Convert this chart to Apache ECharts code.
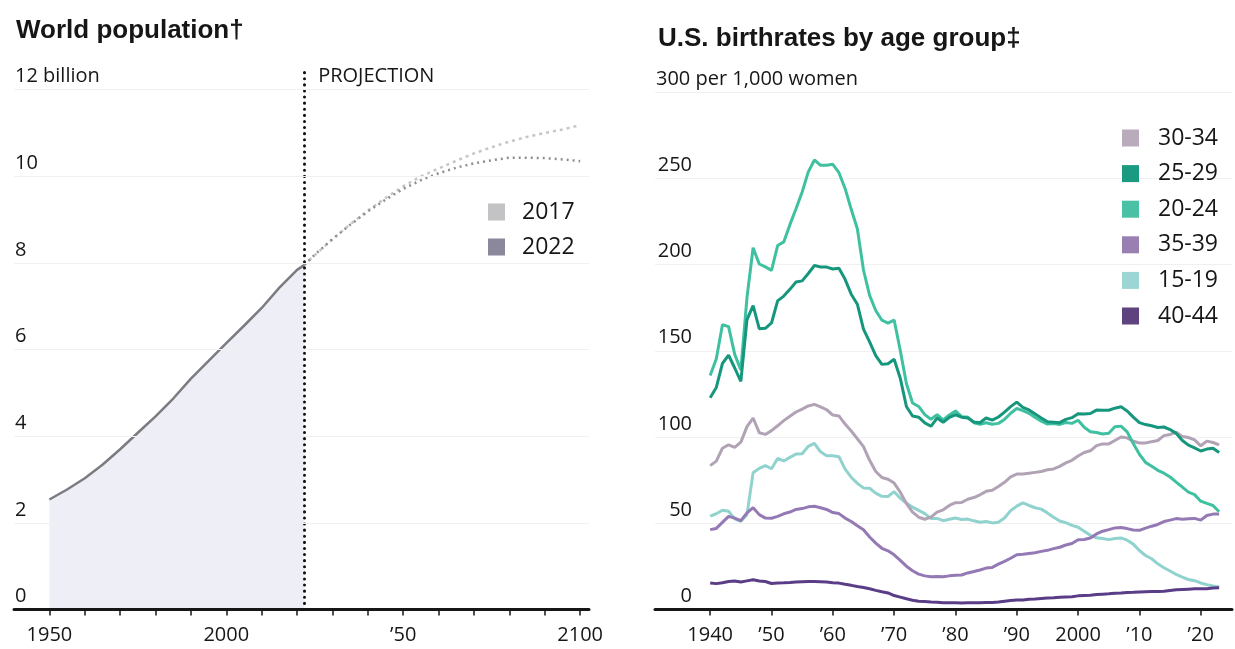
<!DOCTYPE html>
<html>
<head>
<meta charset="utf-8">
<style>
  html, body { margin: 0; padding: 0; background: #fff; }
  #chart { width: 1235px; height: 649px; }
</style>
<script src="https://cdn.jsdelivr.net/npm/echarts@6/dist/echarts.min.js"></script>
</head>
<body>
<div id="chart"></div>
<script>
// ---- World population, billions ----
const popYears = [1950, 1955, 1960, 1965, 1970, 1975, 1980, 1985, 1990, 1995, 2000, 2005, 2010, 2015, 2020, 2022];
const popHistory = [2.54, 2.77, 3.03, 3.34, 3.70, 4.08, 4.46, 4.87, 5.33, 5.74, 6.15, 6.55, 6.96, 7.43, 7.84, 7.95];
const projYears = [2022, 2025, 2030, 2035, 2040, 2045, 2050, 2055, 2060, 2065, 2070, 2075, 2080, 2085, 2090, 2095, 2100];
const proj2022 = [7.95, 8.19, 8.55, 8.88, 9.19, 9.46, 9.71, 9.91, 10.07, 10.20, 10.30, 10.37, 10.43, 10.43, 10.42, 10.39, 10.35];
const proj2017 = [7.95, 8.18, 8.55, 8.89, 9.21, 9.50, 9.77, 10.00, 10.18, 10.36, 10.53, 10.67, 10.80, 10.91, 11.00, 11.08, 11.18];
const popTickYears = [1950, 1960, 1970, 1980, 1990, 2000, 2010, 2020, 2030, 2040, 2050, 2060, 2070, 2080, 2090, 2100];
const popLabelYears = [1950, 2000, 2050, 2100];
const popLabelText = { 1950: '1950', 2000: '2000', 2050: '\u201950', 2100: '2100' };
const popLabelValues = [0, 2, 4, 6, 8, 10, 12];
const popGridValues = [2, 4, 6, 8, 10, 12];
const projectionYear = 2022;

// ---- U.S. birthrates by age of mother, births per 1,000 women, 1940-2023 ----
const birthYears = Array.from({ length: 84 }, (_, i) => 1940 + i);
const rate15_19 = [
  54.1, 55.5, 57.5, 57.0, 52.5, 51.1, 55.0, 79.3, 81.8, 83.4,
  81.6, 87.6, 86.1, 88.2, 90.1, 90.3, 94.6, 96.3, 91.4, 89.1,
  89.1, 88.6, 81.4, 76.7, 73.1, 70.5, 70.3, 67.5, 65.6, 65.5,
  68.3, 64.5, 61.7, 59.3, 57.5, 55.6, 52.8, 52.8, 51.5, 52.3,
  53.0, 52.2, 52.4, 51.4, 50.6, 51.0, 50.2, 50.6, 53.0, 57.3,
  59.9, 61.8, 60.3, 59.0, 58.2, 56.0, 53.5, 51.3, 50.3, 48.8,
  47.7, 45.3, 43.0, 41.6, 41.1, 40.5, 41.1, 41.5, 40.2, 37.9,
  34.2, 31.3, 29.4, 26.5, 24.2, 22.3, 20.3, 18.8, 17.4, 16.7,
  15.4, 14.4, 13.6, 13.1
];
const rate20_24 = [
  135.6, 145.4, 165.1, 164.0, 147.9, 138.9, 180.8, 209.7, 200.3, 198.6,
  196.6, 211.0, 213.1, 223.1, 232.3, 242.0, 253.7, 260.6, 257.5, 257.5,
  258.1, 253.2, 244.1, 232.0, 220.7, 196.8, 182.1, 173.3, 167.7, 166.0,
  167.8, 150.1, 131.0, 119.7, 117.7, 113.0, 110.3, 112.9, 109.9, 112.8,
  115.1, 111.8, 111.6, 108.3, 107.3, 108.3, 107.4, 107.9, 110.2, 113.8,
  116.5, 115.3, 113.7, 111.3, 109.2, 107.5, 107.8, 107.3, 108.4, 107.9,
  109.7, 105.6, 103.1, 102.6, 101.7, 102.2, 105.9, 106.3, 103.0, 96.2,
  90.0, 85.3, 83.1, 80.7, 79.0, 76.8, 73.8, 71.0, 68.0, 66.6,
  62.8, 61.5, 60.3, 56.7
];
const rate25_29 = [
  122.8, 128.7, 142.7, 147.4, 140.0, 132.2, 168.0, 176.1, 162.8, 163.0,
  166.1, 178.9, 181.7, 185.6, 189.9, 190.5, 194.8, 199.4, 198.6, 198.5,
  197.4, 197.8, 191.4, 182.8, 177.0, 162.5, 155.1, 147.2, 142.1, 142.5,
  145.1, 134.1, 117.7, 112.2, 111.5, 108.2, 106.2, 111.0, 108.5, 111.4,
  112.9, 111.5, 111.0, 108.7, 108.3, 111.0, 109.8, 111.6, 114.4, 117.6,
  120.2, 117.2, 115.7, 113.3, 111.0, 108.8, 108.6, 108.3, 110.2, 111.2,
  113.5, 113.4, 113.6, 115.6, 115.5, 115.5, 116.7, 117.5, 115.1, 111.5,
  108.3, 107.2, 106.5, 105.5, 105.8, 104.3, 102.1, 98.0, 95.3, 93.7,
  91.9, 93.0, 93.5, 91.0
];
const rate30_34 = [
  83.4, 86.0, 93.5, 95.5, 94.0, 97.0, 106.0, 111.0, 102.5, 101.5,
  103.7, 106.5, 109.5, 112.0, 114.5, 116.2, 118.0, 118.9, 117.5, 115.8,
  112.7, 112.2, 107.5, 103.5, 99.0, 94.4, 86.5, 80.0, 76.5, 75.5,
  73.3, 68.0, 61.5, 56.5, 53.5, 52.3, 53.6, 56.5, 57.8, 60.3,
  61.9, 62.0, 63.9, 64.9, 66.5, 68.5, 69.1, 71.3, 73.7, 76.9,
  78.5, 78.5, 79.0, 79.5, 80.0, 81.0, 81.5, 83.0, 85.0, 86.5,
  89.0, 91.0, 92.0, 95.0, 96.0, 96.0, 98.0, 100.0, 99.5, 97.5,
  96.5, 96.5, 97.3, 98.0, 100.8, 101.5, 102.7, 100.3, 99.7, 98.3,
  94.9, 97.6, 96.8, 95.4
];
const rate35_39 = [
  46.3, 47.0, 50.5, 54.0, 53.0, 51.5, 56.0, 59.0, 55.0, 53.0,
  52.9, 54.0, 55.5, 56.5, 58.0, 58.5, 59.5, 59.9, 59.0, 58.0,
  56.2, 55.6, 53.0, 51.0, 48.5, 46.2, 42.0, 38.5, 35.5, 34.0,
  31.7, 28.5, 25.1, 22.5, 20.5, 19.5, 19.0, 19.2, 19.0, 19.5,
  19.8, 20.0, 21.2, 22.0, 22.9, 24.0, 24.4, 26.3, 27.9, 29.7,
  31.7, 32.0, 32.5, 32.9, 33.7, 34.3, 35.3, 36.1, 37.4, 38.3,
  40.4, 40.6, 41.4, 43.8, 45.4, 46.3, 47.3, 47.5, 46.9, 46.1,
  45.9, 47.2, 48.3, 49.3, 51.0, 51.8, 52.7, 52.3, 52.6, 52.8,
  51.8, 54.5, 55.3, 55.3
];
const rate40_44 = [
  15.3, 15.0, 15.5, 16.2, 16.5, 16.0, 16.6, 17.2, 16.5, 16.2,
  15.1, 15.4, 15.5, 15.7, 16.0, 16.1, 16.2, 16.3, 16.1, 15.9,
  15.5, 15.3, 14.6, 14.0, 13.3, 12.8, 12.0, 11.1, 10.3, 9.6,
  8.1, 7.2, 6.2, 5.4, 4.8, 4.6, 4.3, 4.2, 3.9, 3.9,
  3.9, 3.8, 3.9, 3.9, 3.9, 4.0, 4.1, 4.4, 4.8, 5.2,
  5.5, 5.5, 5.9, 6.1, 6.4, 6.6, 6.8, 7.1, 7.3, 7.4,
  7.9, 8.1, 8.3, 8.7, 8.9, 9.1, 9.4, 9.5, 9.9, 10.0,
  10.2, 10.3, 10.4, 10.4, 10.6, 11.0, 11.4, 11.6, 11.8, 12.0,
  12.1, 12.0, 12.5, 12.6
];
const birthTickYears = [1940, 1950, 1960, 1970, 1980, 1990, 2000, 2010, 2020];
const ageGroups = ['30-34', '25-29', '20-24', '35-39', '15-19', '40-44'];

const FONT = "'Open Sans', 'Liberation Sans', sans-serif";
const TITLE_FONT = "'Liberation Sans', sans-serif";
const INK = '#161616';

const pairs = (xs, ys) => xs.map((x, i) => [x, ys[i]]);

const ageStyles = {
  '15-19': { line: '#8fd2ce', icon: '#9bd5d4' },
  '40-44': { line: '#5a3c87', icon: '#5f437f' },
  '35-39': { line: '#9479b4', icon: '#9a7fb3' },
  '30-34': { line: '#b1a3b5', icon: '#b9abbb' },
  '20-24': { line: '#3fc0a0', icon: '#4ac1a4' },
  '25-29': { line: '#16977d', icon: '#1b9a82' }
};
const ageValues = {
  '15-19': rate15_19, '20-24': rate20_24, '25-29': rate25_29,
  '30-34': rate30_34, '35-39': rate35_39, '40-44': rate40_44
};
// drawing order, bottom to top
const drawOrder = ['15-19', '40-44', '35-39', '30-34', '20-24', '25-29'];

const xAxisBase = {
  type: 'value',
  z: 5,
  axisLine: { show: true, lineStyle: { color: INK, width: 3 } },
  axisTick: { show: true, length: 6, lineStyle: { color: INK, width: 1.5 } },
  axisLabel: { color: INK, fontFamily: FONT, fontSize: 20, margin: 16 },
  splitLine: { show: false }
};
const yAxisBase = {
  type: 'value',
  axisLine: { show: false },
  axisTick: { show: false },
  splitLine: { show: true, lineStyle: { color: '#f0f0f0', width: 1 } },
  axisLabel: {
    inside: true, margin: 1, verticalAlign: 'bottom', align: 'left',
    padding: [0, 0, 3, 0], color: INK, fontFamily: FONT, fontSize: 20
  }
};

const chart = echarts.init(document.getElementById('chart'), null, { renderer: 'canvas' });

const option = {
  animation: false,
  backgroundColor: '#ffffff',
  title: [
    { text: 'World population\u2020', left: 11, top: 13,
      textStyle: { fontFamily: TITLE_FONT, fontWeight: 'bold', fontSize: 26, color: INK } },
    { text: 'U.S. birthrates by age group\u2021', left: 653, top: 21,
      textStyle: { fontFamily: TITLE_FONT, fontWeight: 'bold', fontSize: 26, color: INK } }
  ],
  legend: [
    {
      orient: 'vertical', left: 483, top: 195, itemWidth: 17, itemHeight: 17, itemGap: 11,
      icon: 'rect', selectedMode: false,
      textStyle: { fontFamily: FONT, fontSize: 23, color: INK, lineHeight: 24, padding: [0, 0, 0, 12] },
      data: [
        { name: '2017', itemStyle: { color: '#c3c3c6' } },
        { name: '2022', itemStyle: { color: '#8a889a' } }
      ]
    },
    {
      orient: 'vertical', left: 1117, top: 121, itemWidth: 17, itemHeight: 17, itemGap: 11.6,
      icon: 'rect', selectedMode: false,
      textStyle: { fontFamily: FONT, fontSize: 23, color: INK, lineHeight: 24, padding: [0, 0, 0, 14] },
      data: ageGroups.map(n => ({ name: n, itemStyle: { color: ageStyles[n].icon } }))
    }
  ],
  grid: [
    // top edge sits at 12.5 billion so the projection marker reaches above the 12 line
    { left: 14, width: 575, top: 68, bottom: 39.5 },
    { left: 655, width: 577, top: 92, bottom: 39.5 }
  ],
  xAxis: [
    Object.assign({}, xAxisBase, {
      gridIndex: 0, min: 1940, max: 2102.5,
      axisTick: Object.assign({}, xAxisBase.axisTick, { customValues: popTickYears }),
      axisLabel: Object.assign({}, xAxisBase.axisLabel, {
        customValues: popLabelYears, formatter: v => popLabelText[v] || ''
      })
    }),
    Object.assign({}, xAxisBase, {
      gridIndex: 1, min: 1931, max: 2025.1,
      axisTick: Object.assign({}, xAxisBase.axisTick, { customValues: birthTickYears }),
      axisLabel: Object.assign({}, xAxisBase.axisLabel, {
        customValues: birthTickYears,
        formatter: v => (v === 1940 || v === 2000) ? String(v) : '\u2019' + String(v).slice(2)
      })
    })
  ],
  yAxis: [
    Object.assign({}, yAxisBase, {
      gridIndex: 0, min: 0, max: 12.5,
      splitLine: { show: false },
      axisLabel: Object.assign({}, yAxisBase.axisLabel, {
        customValues: popLabelValues,
        formatter: v => v === 12 ? '12 billion' : String(v)
      })
    }),
    Object.assign({}, yAxisBase, {
      gridIndex: 1, min: 0, max: 300, interval: 50,
      axisLabel: Object.assign({}, yAxisBase.axisLabel, {
        formatter: v => v === 300 ? '{t|300 per 1,000 women}' : '{n|' + v + '}',
        rich: {
          n: { width: 36, align: 'right', fontFamily: FONT, fontSize: 20, color: INK },
          t: { fontFamily: FONT, fontSize: 20, color: INK }
        }
      })
    })
  ],
  series: [
    {
      name: '2022', type: 'line', xAxisIndex: 0, yAxisIndex: 0,
      data: pairs(popYears, popHistory), showSymbol: false, symbol: 'none',
      lineStyle: { color: '#7b7b80', width: 2.5 },
      itemStyle: { color: '#7b7b80' },
      areaStyle: { color: '#eeeef6', opacity: 1 },
      z: 3,
      markLine: {
        silent: true, symbol: 'none',
        lineStyle: { color: '#111', width: 3, type: [0.1, 6], cap: 'round' },
        label: { show: false },
        data: [[{ coord: [projectionYear, 0] }, { coord: [projectionYear, 12.5] }]]
      },
      markPoint: {
        silent: true, symbol: 'circle', symbolSize: 0,
        label: {
          show: true, position: 'right', distance: 14, formatter: 'PROJECTION',
          fontFamily: FONT, fontSize: 20, color: INK
        },
        data: [{ coord: [projectionYear, 12.3] }]
      }
    },
    {
      // faint reference lines at each labelled population level
      name: 'grid', type: 'line', xAxisIndex: 0, yAxisIndex: 0, silent: true,
      data: [], symbol: 'none',
      markLine: {
        silent: true, symbol: 'none', label: { show: false },
        lineStyle: { color: '#f0f0f0', width: 1, type: 'solid' },
        data: popGridValues.map(v => ({ yAxis: v }))
      },
      z: 0
    },
    {
      name: '2017', type: 'line', xAxisIndex: 0, yAxisIndex: 0,
      data: pairs(projYears, proj2017), showSymbol: false, symbol: 'none',
      lineStyle: { color: '#c6c6c8', width: 2.5, type: [3, 4] },
      itemStyle: { color: '#c6c6c8' }, z: 2
    },
    {
      name: '2022', type: 'line', xAxisIndex: 0, yAxisIndex: 0,
      data: pairs(projYears, proj2022), showSymbol: false, symbol: 'none',
      lineStyle: { color: '#8e8e92', width: 2.5, type: [2, 4] },
      itemStyle: { color: '#8e8e92' }, z: 2
    }
  ].concat(drawOrder.map((name, i) => ({
    name: name, type: 'line', xAxisIndex: 1, yAxisIndex: 1,
    data: pairs(birthYears, ageValues[name]), showSymbol: false, symbol: 'none',
    lineStyle: { color: ageStyles[name].line, width: 3 },
    itemStyle: { color: ageStyles[name].line },
    z: 2 + i * 0.01
  })))
};

chart.setOption(option);
</script>
</body>
</html>
